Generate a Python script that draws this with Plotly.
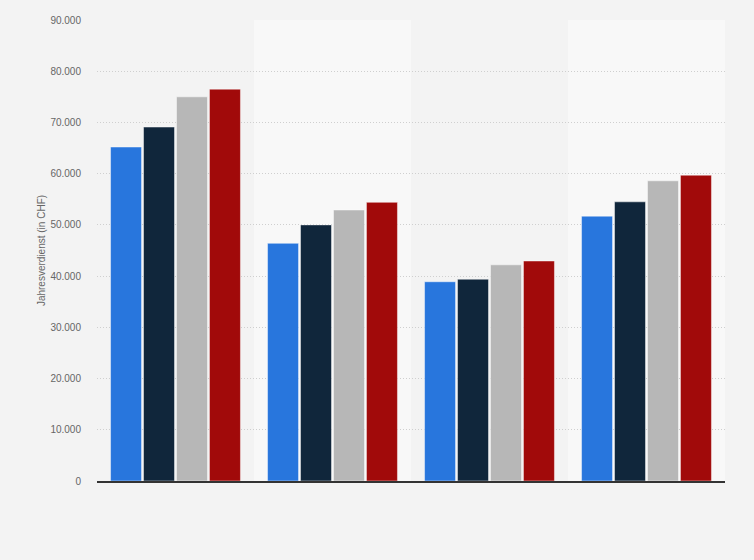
import plotly.graph_objects as go

categories = ["Kategorie 1", "Kategorie 2", "Kategorie 3", "Kategorie 4"]
series_names = ["Serie 1", "Serie 2", "Serie 3", "Serie 4"]
series_values = [
    [65200, 46400, 38900, 51700],
    [69100, 50000, 39400, 54500],
    [75000, 52900, 42200, 58600],
    [76500, 54400, 42950, 59700],
]
colors = ["#2876dd", "#10263b", "#b7b7b7", "#a10a0a"]
y_ticks = [0, 10000, 20000, 30000, 40000, 50000, 60000, 70000, 80000, 90000]

fig = go.Figure()
for name, vals, col in zip(series_names, series_values, colors):
    fig.add_trace(go.Bar(
        x=categories, y=vals, name=name,
        marker=dict(color=col, line=dict(color="rgba(255,255,255,0.45)", width=1)),
    ))

# alternating column bands
for i, c in enumerate(categories):
    if i % 2 == 1:
        fig.add_shape(type="rect", xref="x", yref="paper",
                      x0=i - 0.5, x1=i + 0.5, y0=0, y1=1,
                      fillcolor="#f8f8f8", line=dict(width=0), layer="below")

fig.update_layout(
    width=754, height=560,
    paper_bgcolor="#f3f3f3", plot_bgcolor="#f3f3f3",
    margin=dict(l=97, r=29, t=20, b=79),
    barmode="group", bargap=0.16, bargroupgap=0.06,
    showlegend=False,
    separators=",.",
    font=dict(family="Liberation Sans, Arial, sans-serif", size=10, color="#666666"),
)
fig.update_xaxes(
    showticklabels=False, showgrid=False, ticks="",
    showline=True, linecolor="#333333", linewidth=1.5,
    range=[-0.5, len(categories) - 0.5],
)
fig.update_yaxes(
    range=[0, 90000], tickvals=y_ticks, tickformat=",d",
    showgrid=True, gridcolor="#cfcfcf", griddash="1px,2px", gridwidth=1,
    zeroline=False, ticks="", ticklabelstandoff=15,
    title=dict(text="Jahresverdienst (in CHF)", standoff=2,
               font=dict(size=10, color="#666666")),
    tickfont=dict(size=10, color="#666666"),
)

fig.write_html("out.html", config={"displayModeBar": False},
               post_script="document.body.style.margin='0';document.body.style.background='#f3f3f3';")
